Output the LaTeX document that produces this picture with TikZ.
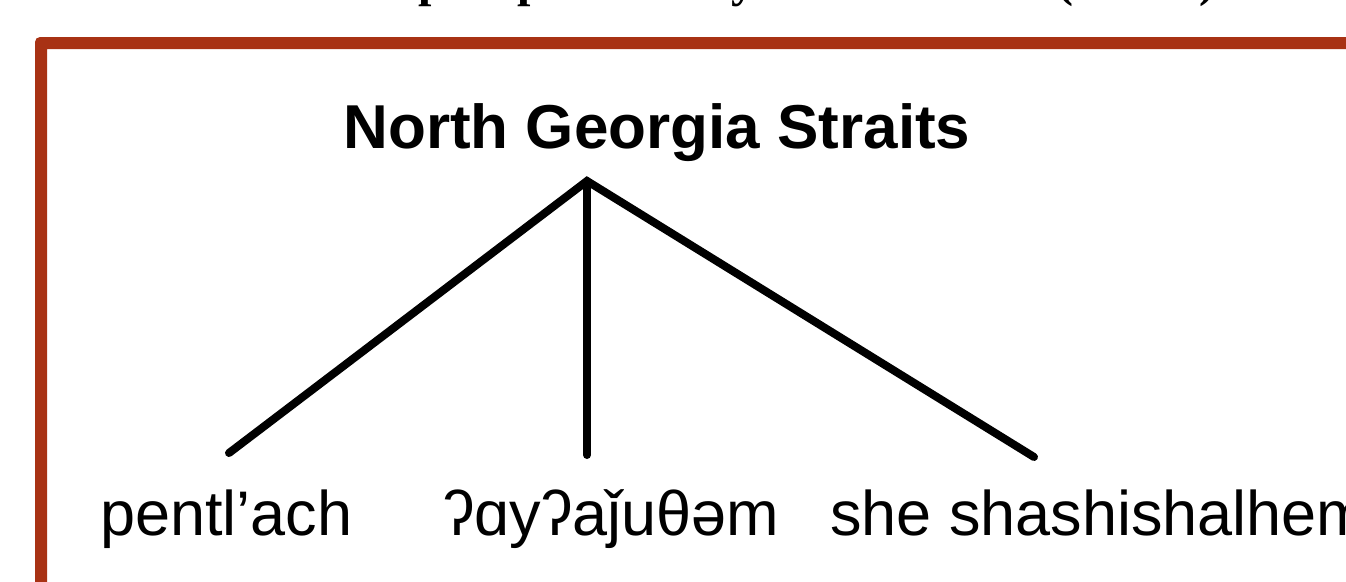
\documentclass[tikz,border=0pt]{standalone}
\usepackage{fontspec}
\setmainfont{Liberation Sans}
\newfontfamily\headserif{Liberation Serif}
\definecolor{framered}{HTML}{A83214}
\tikzset{
  branch/.style={line width=8pt, line cap=round, black},
  leaf/.style={anchor=base west, inner sep=0pt, font=\fontsize{63}{70}\selectfont},
  rootlabel/.style={anchor=base, inner sep=0pt, font=\fontsize{62}{70}\selectfont\bfseries},
  headfrag/.style={inner sep=0pt, font=\fontsize{48}{56}\selectfont\headserif\bfseries}
}
\begin{document}
\begin{tikzpicture}[x=1pt, y=-1pt]
  \useasboundingbox (0,0) rectangle (1346,581);
  \clip (0,0) rectangle (1346,581);
  \fill[white] (0,0) rectangle (1346,581);

  % lower ends of the heading line above the panel
  \node[headfrag, anchor=base west] (hp1) at (418,-3.5) {p};
  \node[headfrag, anchor=base west] (hp2) at (517,-3.5) {p};
  \node[headfrag, anchor=base west] (hy) at (731,-3.5) {y};
  \node[headfrag, anchor=base west] (hl) at (1057,-3.5) {(};
  \node[headfrag, anchor=base east] (hr) at (1216,-3.5) {)};

  % panel frame
  \fill[framered, even odd rule, rounded corners=5pt]
    (35,37) rectangle (1420,660)
    {[sharp corners] (47,49) rectangle (1408,648)};

  % tree
  \node[rootlabel] (root) at (657,148) {North Georgia Straits};
  \coordinate (apex) at (587,181);
  \coordinate (endA) at (229,453);
  \coordinate (endB) at (587,455);
  \coordinate (endC) at (1034,457);

  \node[leaf] (leafA) at (100,535) {pentl’ach};
  \node[leaf] (leafB) at (443,535) {ʔɑyʔaǰuθəm};
  \node[leaf] (leafC) at (830,535) {she shashishalhem};

  \draw[branch] (endA) -- (apex) -- (endC);
  \draw[branch] (apex) -- (endB);
\end{tikzpicture}
\end{document}
